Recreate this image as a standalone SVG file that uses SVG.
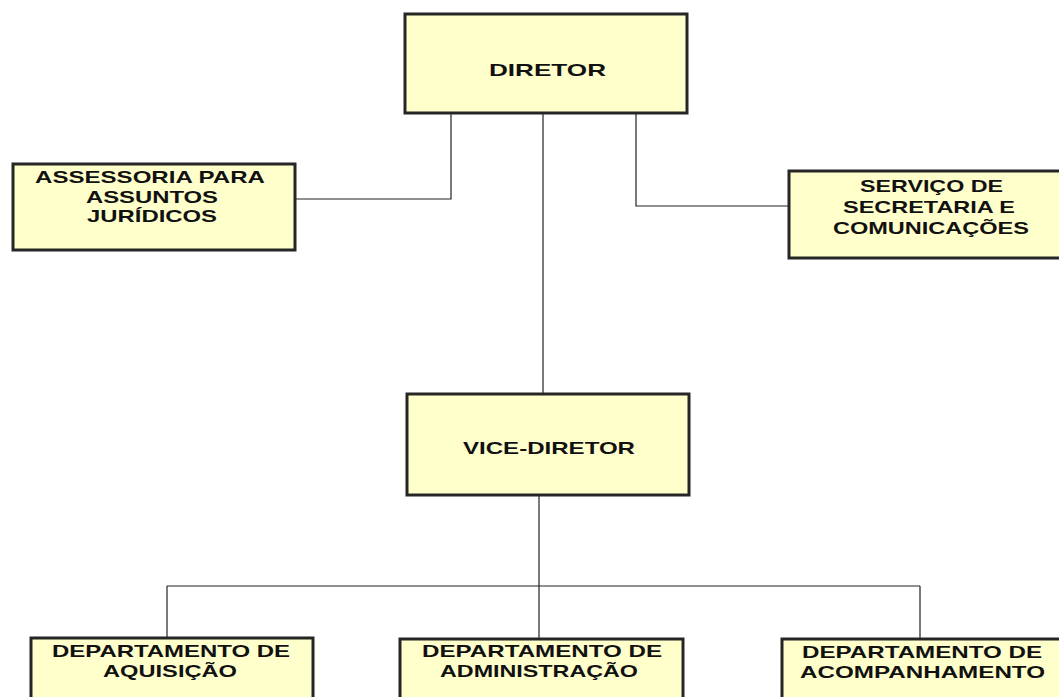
<svg xmlns="http://www.w3.org/2000/svg" width="1059" height="697" viewBox="0 0 1059 697">
<style>
.box{fill:#FFFFCC;stroke:#262626;stroke-width:3}
.sh{fill:none;stroke:#9a9a9a;stroke-width:1}
.t{font-family:"Liberation Sans",Arial,sans-serif;font-weight:bold;font-size:17px;fill:#111}
.c{fill:none;stroke:#222;stroke-width:1.2}
</style>
<rect width="1059" height="697" fill="#fff"/>
<g id="connectors">
<path class="c" d="M451 114V199H295"/>
<path class="c" d="M543 114V394"/>
<path class="c" d="M636 114V206H789"/>
<path class="c" d="M539 495V586"/>
<path class="c" d="M167 586H920"/>
<path class="c" d="M167 586V638"/>
<path class="c" d="M539 586V639"/>
<path class="c" d="M920 586V639"/>
</g>
<g id="diretor">
<rect class="box" x="405" y="14" width="282" height="99"/>
<text class="t" x="489" y="76" font-size="18" textLength="117" lengthAdjust="spacingAndGlyphs">DIRETOR</text>
</g>
<g id="assessoria">
<rect class="box" x="13" y="164" width="282" height="86"/>
<text class="t" x="35" y="183" textLength="230" lengthAdjust="spacingAndGlyphs">ASSESSORIA PARA</text>
<text class="t" x="86" y="203" textLength="132" lengthAdjust="spacingAndGlyphs">ASSUNTOS</text>
<text class="t" x="87" y="222" textLength="130" lengthAdjust="spacingAndGlyphs">JURÍDICOS</text>
</g>
<g id="servico">
<rect class="box" x="789" y="171" width="300" height="87"/>
<text class="t" x="860" y="192" textLength="143" lengthAdjust="spacingAndGlyphs">SERVIÇO DE</text>
<text class="t" x="843" y="213" textLength="172" lengthAdjust="spacingAndGlyphs">SECRETARIA E</text>
<text class="t" x="833" y="234" textLength="196" lengthAdjust="spacingAndGlyphs">COMUNICAÇÕES</text>
</g>
<g id="vice-diretor">
<rect class="box" x="407" y="394" width="282" height="101"/>
<text class="t" x="463" y="454" textLength="172" lengthAdjust="spacingAndGlyphs">VICE-DIRETOR</text>
</g>
<g id="dep-aquisicao">
<rect class="box" x="31" y="638" width="282" height="80"/>
<text class="t" x="52" y="657" textLength="238" lengthAdjust="spacingAndGlyphs">DEPARTAMENTO DE</text>
<text class="t" x="103" y="677" textLength="134" lengthAdjust="spacingAndGlyphs">AQUISIÇÃO</text>
</g>
<g id="dep-administracao">
<rect class="box" x="400" y="639" width="283" height="80"/>
<text class="t" x="422" y="657" textLength="240" lengthAdjust="spacingAndGlyphs">DEPARTAMENTO DE</text>
<text class="t" x="440" y="677" textLength="198" lengthAdjust="spacingAndGlyphs">ADMINISTRAÇÃO</text>
</g>
<g id="dep-acompanhamento">
<rect class="box" x="782" y="639" width="300" height="80"/>
<text class="t" x="802" y="658" textLength="240" lengthAdjust="spacingAndGlyphs">DEPARTAMENTO DE</text>
<text class="t" x="800" y="678" textLength="245" lengthAdjust="spacingAndGlyphs">ACOMPANHAMENTO</text>
</g>
</svg>
